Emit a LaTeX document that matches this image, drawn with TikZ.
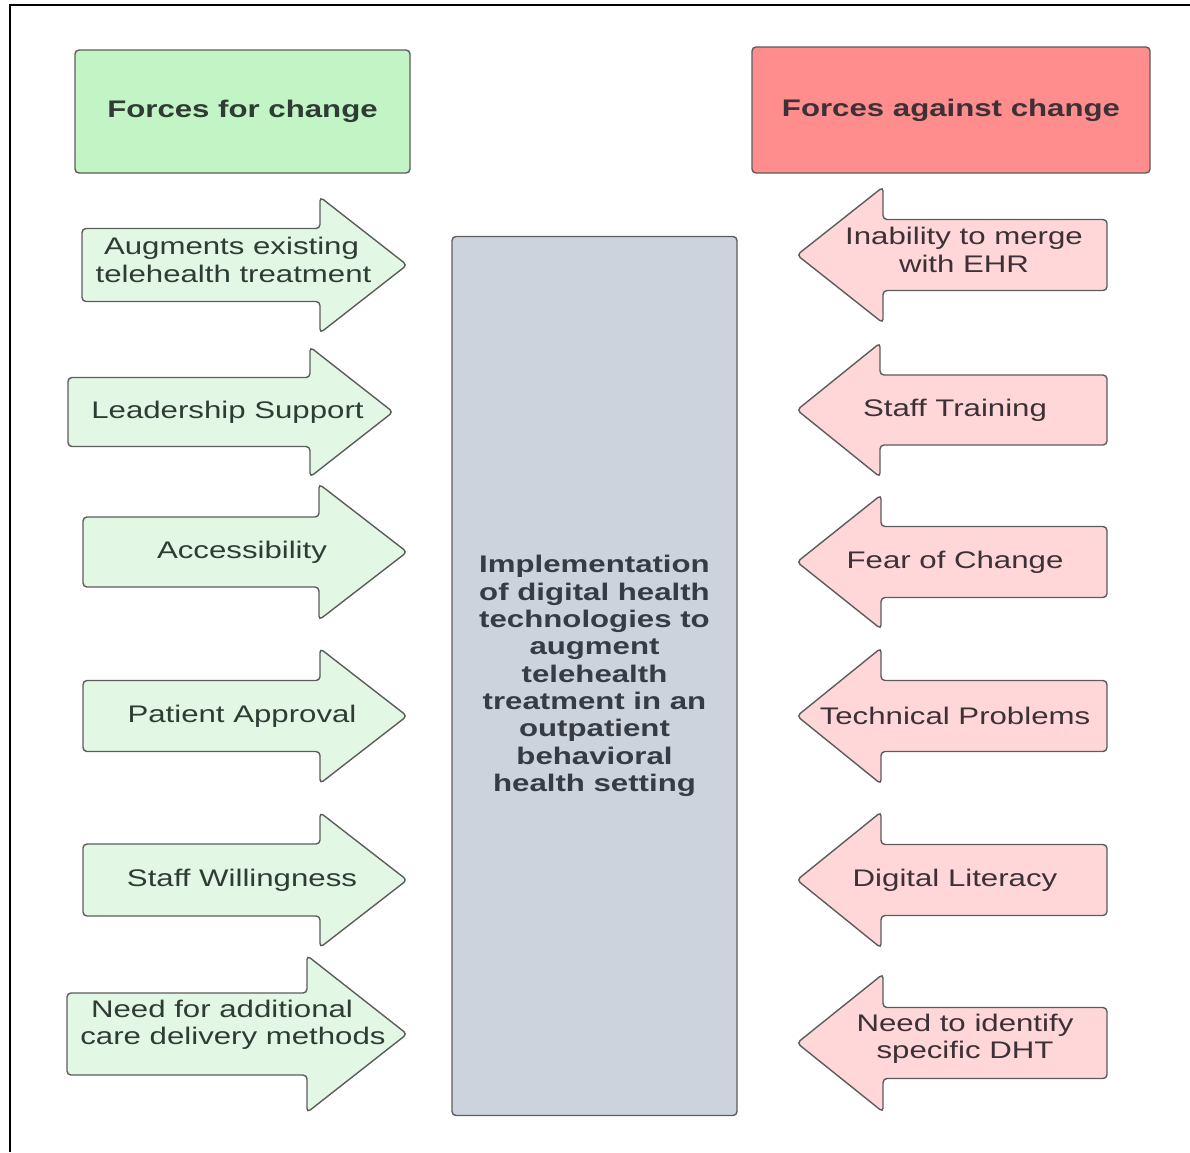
\documentclass[tikz,border=0pt]{standalone}
\usepackage{fontspec}
\setmainfont{Liberation Sans}[FakeStretch=1.3]
\definecolor{forhead}{HTML}{C2F4C6}
\definecolor{forfill}{HTML}{E3F8E4}
\definecolor{againsthead}{HTML}{FF8D8D}
\definecolor{againstfill}{HTML}{FFD7D8}
\definecolor{goalfill}{HTML}{CDD3DC}
\definecolor{edge}{HTML}{5C5C5C}
\definecolor{fortext}{HTML}{2F3C34}
\definecolor{againsttext}{HTML}{3C3136}
\definecolor{goaltext}{HTML}{363B44}
\tikzset{
  shapeline/.style={draw=edge, line width=1.4pt, rounded corners=4pt},
  label/.style={align=center, inner sep=0pt, font=\fontsize{24}{27.5}\selectfont},
  forlabel/.style={label, text=fortext},
  againstlabel/.style={label, text=againsttext},
  headlabel/.style={label, font=\fontsize{24}{27.5}\selectfont\bfseries},
}
% right-pointing arrow: name, left x, head base x, tip x, centre y, body half, head half, text, label nudge
\newcommand\ForArrow[9]{%
  \path[shapeline, fill=forfill]
    (#2,{#5-#6}) -- (#3,{#5-#6}) -- (#3,{#5-#7}) -- (#4,#5)
    -- (#3,{#5+#7}) -- (#3,{#5+#6}) -- (#2,{#5+#6}) -- cycle;
  \node[forlabel, shift={#9}] (#1) at ({(#2+#4)/2-3},#5) {#8};}
% left-pointing arrow: name, tip x, head base x, right x, centre y, body half, head half, text, label nudge
\newcommand\AgainstArrow[9]{%
  \path[shapeline, fill=againstfill]
    (#4,{#5-#6}) -- (#3,{#5-#6}) -- (#3,{#5-#7}) -- (#2,#5)
    -- (#3,{#5+#7}) -- (#3,{#5+#6}) -- (#4,{#5+#6}) -- cycle;
  \node[againstlabel, shift={#9}] (#1) at ({(#2+#4)/2+3},#5) {#8};}
\begin{document}
\begin{tikzpicture}[x=1pt, y=-1pt]
\useasboundingbox (0,0) rectangle (1190,1152);
% frame on the top and left edges
\draw[line width=2pt, black] (10,1152) -- (10,5) -- (1190,5);

% column headings
\node[shapeline, fill=forhead, minimum width=335pt, minimum height=123pt,
      headlabel, text=fortext] (forhdr) at (242.5,111.5) {Forces for change};
\node[shapeline, fill=againsthead, minimum width=398pt, minimum height=126pt,
      headlabel, text=againsttext] (againsthdr) at (951,110) {Forces against change};

% central goal
\node[shapeline, fill=goalfill, minimum width=285pt, minimum height=879pt,
      label, text=goaltext, font=\fontsize{24}{27.3}\selectfont\bfseries]
  (goal) at (594.5,676)
  {Implementation\\of digital health\\technologies to\\augment\\telehealth\\treatment in an\\outpatient\\behavioral\\health setting};

% driving forces
\ForArrow{f1}{82}{320}{407}{265}{36.5}{68}{Augments existing\hspace*{4pt}\\telehealth treatment}{(-8,-5)}
\ForArrow{f2}{68}{310}{393}{412}{34.5}{65}{Leadership Support}{(0,0)}
\ForArrow{f3}{83}{319}{407}{552}{35}{68}{Accessibility}{(0,0)}
\ForArrow{f4}{83}{320}{407}{716}{35.5}{67.5}{Patient Approval}{(0,0)}
\ForArrow{f5}{83}{320}{407}{880}{36}{67.5}{Staff Willingness}{(0,0)}
\ForArrow{f6}{67}{307}{407}{1034}{41}{78.5}{Need for additional\hspace*{22pt}\\care delivery methods}{(-1,-9)}

% restraining forces
\AgainstArrow{a1}{797}{883}{1107}{255}{35.5}{68}{Inability to merge\\with EHR}{(9,-5)}
\AgainstArrow{a2}{797}{880}{1107}{410}{35}{67}{Staff Training}{(0,0)}
\AgainstArrow{a3}{797}{881}{1107}{562}{35.5}{67}{Fear of Change}{(0,0)}
\AgainstArrow{a4}{797}{881}{1107}{716}{35.5}{68}{Technical Problems}{(0,0)}
\AgainstArrow{a5}{797}{881}{1107}{880}{35.5}{68}{Digital Literacy}{(0,0)}
\AgainstArrow{a6}{797}{883}{1107}{1043}{35.5}{69}{Need to identify\\specific DHT}{(10,-4)}
\end{tikzpicture}
\end{document}
